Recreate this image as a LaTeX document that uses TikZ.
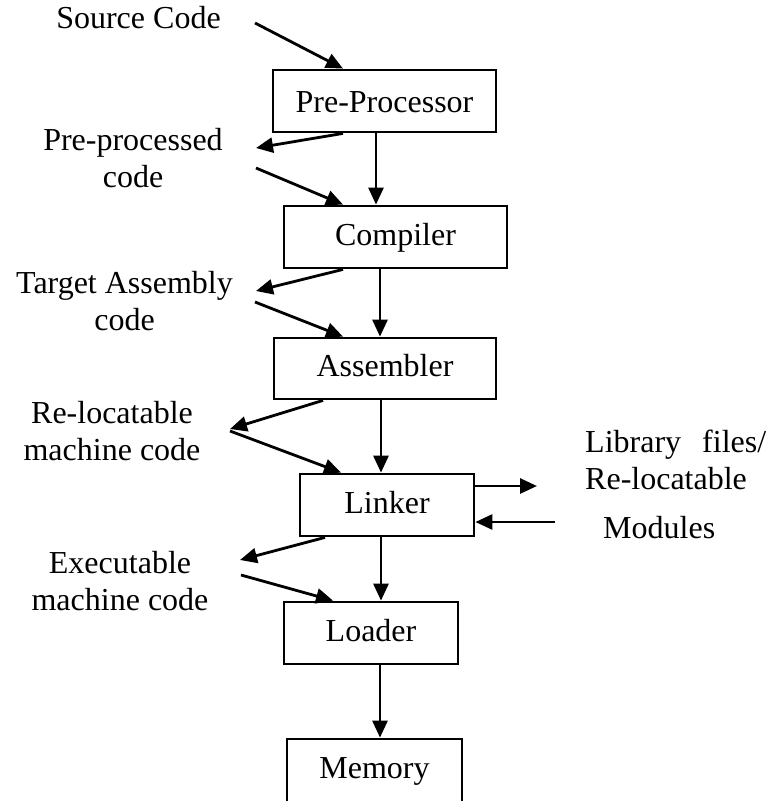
\documentclass[tikz,border=0pt]{standalone}
\usepackage{fontspec}
\setmainfont{Liberation Serif}
\usetikzlibrary{arrows.meta}

\begin{document}
\begin{tikzpicture}[x=1pt, y=-1pt,
  every node/.style={font=\fontsize{32}{37}\selectfont, inner sep=0pt},
  box/.style={draw, line width=2.8pt, text height=22pt, text depth=6pt},
  lbl/.style={align=center, anchor=base},
  arr/.style={line width=2.8pt, -{Triangle[length=17pt, width=15pt]}}]
  \useasboundingbox (0,0) rectangle (778,801);
  \clip (0,0) rectangle (778,801);

  % processing stages
  \node[box, minimum width=223pt, minimum height=62pt, text depth=0pt] (pre)  at (384.5,101) {Pre-Processor};
  \node[box, minimum width=223pt, minimum height=62pt] (comp) at (395.5,237) {Compiler};
  \node[box, minimum width=222pt, minimum height=61pt] (asm)  at (385,368.5) {Assembler};
  \node[box, minimum width=174pt, minimum height=62pt] (link) at (387,505) {Linker};
  \node[box, minimum width=174pt, minimum height=62pt] (load) at (371,633) {Loader};
  \node[box, minimum width=175pt, minimum height=80pt, text depth=24pt] (mem) at (374.5,779) {Memory};

  % intermediate products (placed by the baseline of their last line)
  \node[anchor=base] (src) at (138.5,28) {Source Code};
  \node[lbl] (ppc) at (133,187) {Pre-processed\\code};
  \node[lbl] (tac) at (124.5,330) {Target Assembly\\code};
  \node[lbl] (rlc) at (112,460) {Re-locatable\\machine code};
  \node[lbl] (exe) at (120,610) {Executable\\machine code};
  \node[anchor=base west, text width=181pt, align=left] (lib) at (585,452) {Library\hfill files/\\Re-locatable};
  \node[anchor=base west] (mod) at (603,538) {Modules};

  % free ends of the side connectors
  \coordinate (srcR) at (255,23);
  \coordinate (ppcIn) at (256,148);
  \coordinate (ppcOut) at (256,168);
  \coordinate (tacIn) at (256,291);
  \coordinate (tacOut) at (255,302);
  \coordinate (rlcIn) at (230,429);
  \coordinate (rlcOut) at (230,431);
  \coordinate (libIn) at (537,486);
  \coordinate (modOut) at (555,522);
  \coordinate (exeIn) at (240,560);
  \coordinate (exeOut) at (241,575);

  % main chain
  \draw[arr] ([xshift=-8.5pt]pre.south) -- ([xshift=-19.5pt]comp.north);
  \draw[arr] ([xshift=-15.5pt]comp.south) -- ([xshift=-5pt]asm.north);
  \draw[arr] ([xshift=-4pt]asm.south) -- ([xshift=-6pt]link.north);
  \draw[arr] ([xshift=-6pt]link.south) -- ([xshift=10pt]load.north);
  \draw[arr] ([xshift=9pt]load.south) -- ([xshift=5.5pt]mem.north);

  % side products
  \draw[arr] (srcR) -- ([xshift=-41.5pt]pre.north);
  \draw[arr] ([xshift=-41.5pt]pre.south) -- (ppcIn);
  \draw[arr] (ppcOut) -- ([xshift=-52.5pt]comp.north);
  \draw[arr] ([xshift=-52.5pt]comp.south) -- (tacIn);
  \draw[arr] (tacOut) -- ([xshift=-42pt]asm.north);
  \draw[arr] ([xshift=-62pt]asm.south) -- (rlcIn);
  \draw[arr] (rlcOut) -- ([xshift=-46pt]link.north);
  \draw[arr] ([yshift=19pt]link.east) -- (libIn);
  \draw[arr] (modOut) -- ([yshift=-17pt]link.east);
  \draw[arr] ([xshift=-62pt]link.south) -- (exeIn);
  \draw[arr] (exeOut) -- ([xshift=-38pt]load.north);
\end{tikzpicture}
\end{document}
